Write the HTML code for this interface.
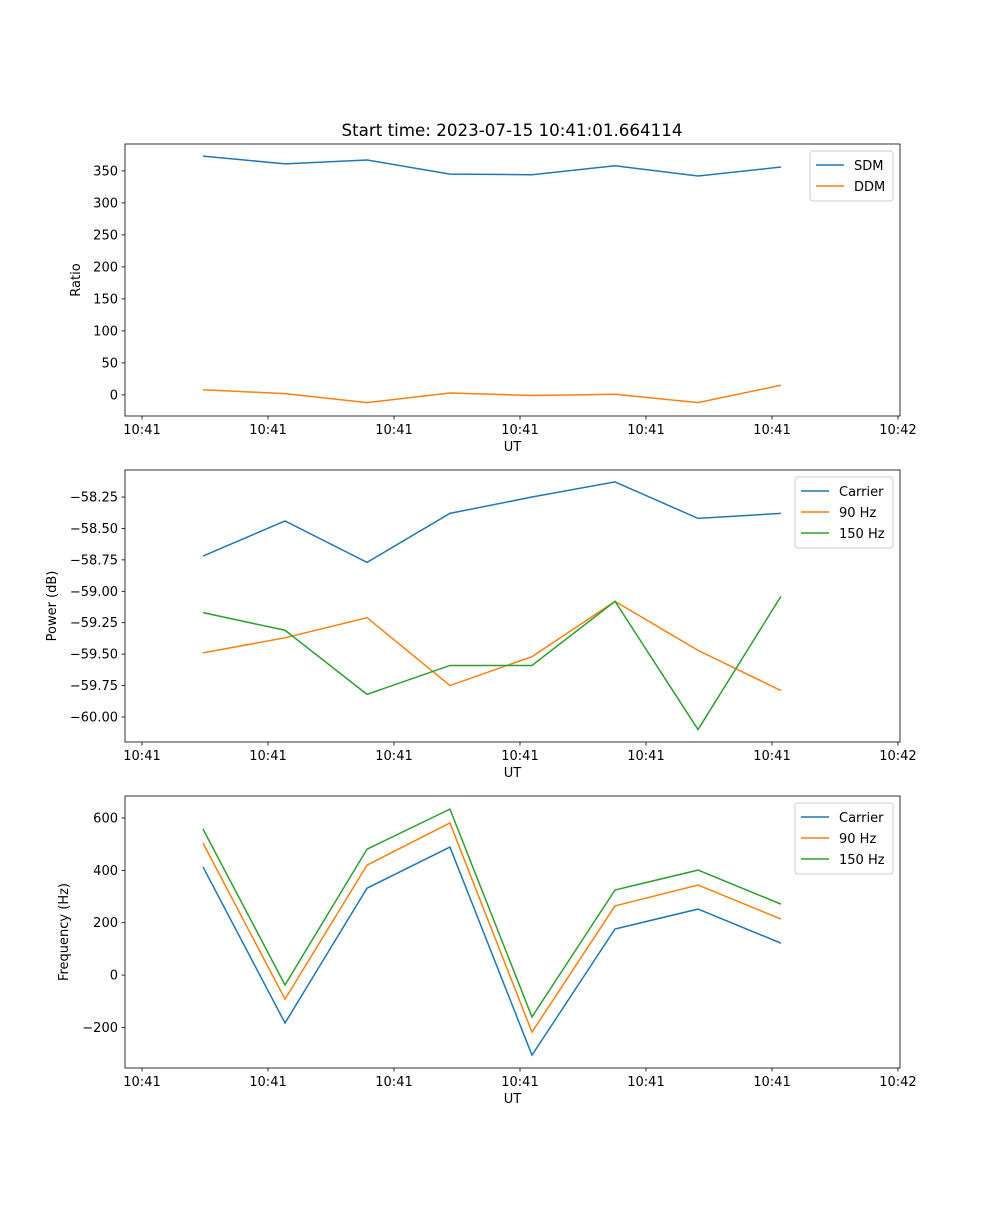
<!DOCTYPE html>
<html><head><meta charset="utf-8"><style>
body{margin:0;background:#fff}
svg text{font-family:"DejaVu Sans","Liberation Sans",sans-serif;fill:#000}
</style></head><body>
<svg id="fig" width="1000" height="1200" xmlns="http://www.w3.org/2000/svg"></svg>
<script>
const xTimes=[0.484,1.135,1.786,2.444,3.095,3.754,4.413,5.071];
const xTickVals=[0,1,2,3,4,5,6];
const xTickLabels=["10:41","10:41","10:41","10:41","10:41","10:41","10:42"];
const sdm=[373,361,367,345,344,358,342,356];
const ddm=[8,2,-12,3,-1,1,-12,15];
const ratioTicks=[0,50,100,150,200,250,300,350];
const powCarrier=[-58.72,-58.44,-58.77,-58.38,-58.25,-58.13,-58.42,-58.38];
const pow90=[-59.49,-59.37,-59.21,-59.75,-59.52,-59.08,-59.47,-59.79];
const pow150=[-59.17,-59.31,-59.82,-59.59,-59.59,-59.08,-60.10,-59.04];
const powTicks=[-60.00,-59.75,-59.50,-59.25,-59.00,-58.75,-58.50,-58.25];
const freqCarrier=[413,-183,332,489,-306,176,252,122];
const freq90=[504,-92,420,581,-218,264,344,214];
const freq150=[558,-38,481,634,-160,325,401,271];
const freqTicks=[-200,0,200,400,600];
const C=["#1f77b4","#ff7f0e","#2ca02c"];
const svg=document.getElementById('fig');
const NS="http://www.w3.org/2000/svg";
const FS=13;
function el(t,a,p){const e=document.createElementNS(NS,t);for(const k in a)e.setAttribute(k,a[k]);(p||svg).appendChild(e);return e;}
function panel(name,top,ymin,ymax,yticks,fmt,ylabel,series,labels,legW){
  const L=125,R=900,T=top,B=top+272,xmin=-0.135,xmax=6.016;
  const g=el('g',{});
  
  
  const X=v=>L+(v-xmin)/(xmax-xmin)*(R-L);
  const Y=v=>B-(v-ymin)/(ymax-ymin)*(B-T);
  series.forEach((s,i)=>{
    const p=el('polyline',{points:s.map((v,j)=>X(xTimes[j])+','+Y(v)).join(' '),fill:'none',stroke:C[i],'stroke-width':1.5},g);
    
    
  });
  el('rect',{x:L,y:T,width:R-L,height:B-T,fill:'none',stroke:'#000','stroke-width':0.8},g);
  xTickVals.forEach((v,i)=>{const x=X(v);el('line',{x1:x,x2:x,y1:B,y2:B+3.5,stroke:'#000','stroke-width':0.8},g);
    const t=el('text',{x:x,y:B+18,'text-anchor':'middle','font-size':FS},g);t.textContent=xTickLabels[i];});
  yticks.forEach(v=>{const y=Y(v);el('line',{x1:L-3.5,x2:L,y1:y,y2:y,stroke:'#000','stroke-width':0.8},g);
    const t=el('text',{x:L-7,y:y+4.5,'text-anchor':'end','font-size':FS},g);t.textContent=fmt(v);});
  const xl=el('text',{x:(L+R)/2,y:B+35,'text-anchor':'middle','font-size':FS},g);xl.textContent='UT';
  
  const yx=name==='ratio-panel'?80:(name==='power-panel'?56:68);
  const yl=el('text',{x:yx,y:(T+B)/2,'text-anchor':'middle','font-size':FS,transform:`rotate(-90 ${yx} ${(T+B)/2})`},g);yl.textContent=ylabel;
  
  const lg=el('g',{},g);
  
  const lx=R-7-legW,ly=T+7;
  el('rect',{x:lx,y:ly,width:legW,height:8+21*labels.length,rx:3,fill:'#fff',stroke:'#ccc','stroke-width':1},lg);
  labels.forEach((lab,i)=>{const yy=ly+14+21*i;
    el('line',{x1:lx+6,x2:lx+34,y1:yy,y2:yy,stroke:C[i],'stroke-width':1.5},lg);
    const t=el('text',{x:lx+44,y:yy+5,'font-size':FS},lg);t.textContent=lab;});
}
const tt=el('text',{x:512,y:136,'text-anchor':'middle','font-size':16.7});tt.textContent='Start time: 2023-07-15 10:41:01.664114';

panel('ratio-panel',144,-33,392,ratioTicks,v=>String(v),'Ratio',[sdm,ddm],['SDM','DDM'],83);
panel('power-panel',470,-60.199,-58.035,powTicks,v=>v.toFixed(2).replace('-','\u2212'),'Power (dB)',[powCarrier,pow90,pow150],['Carrier','90 Hz','150 Hz'],98);
panel('frequency-panel',796,-355,684,freqTicks,v=>String(v).replace('-','\u2212'),'Frequency (Hz)',[freqCarrier,freq90,freq150],['Carrier','90 Hz','150 Hz'],98);
</script>
</body></html>
